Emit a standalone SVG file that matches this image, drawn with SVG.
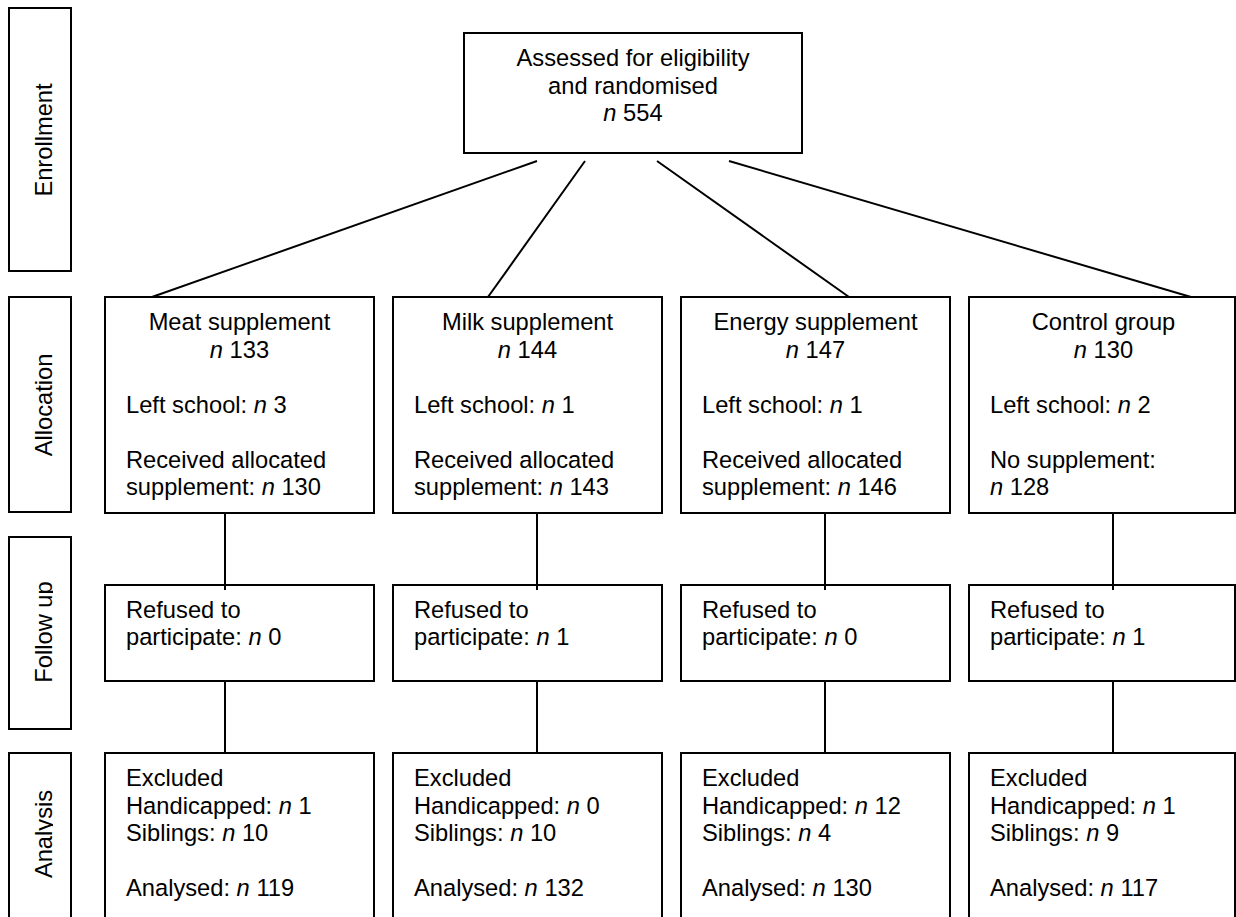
<svg xmlns="http://www.w3.org/2000/svg" width="1236" height="917" viewBox="0 0 1236 917">
<defs>
<style>
.box{fill:#fff;stroke:#000;stroke-width:2}
.bar{fill:#fff;stroke:#000;stroke-width:2}
.ln{stroke:#000;stroke-width:2;fill:none}
text{font-family:"Liberation Sans",Arial,sans-serif;font-size:23.7px;fill:#000}
.c{text-anchor:middle}
.i{font-style:italic}
</style>
<clipPath id="sideclip"><rect x="0" y="0" width="53" height="917"/></clipPath>
</defs>
<rect width="1236" height="917" fill="#fff"/>

<g id="stage-enrollment">
<rect class="bar" x="9" y="8" width="62" height="263"/>
<text class="c" transform="translate(52,140) rotate(-90)">Enrollment</text>
</g>
<g id="stage-allocation">
<rect class="bar" x="9" y="297" width="62" height="215"/>
<text class="c" transform="translate(52,405) rotate(-90)">Allocation</text>
</g>
<g id="stage-followup">
<rect class="bar" x="9" y="537" width="62" height="192"/>
<g clip-path="url(#sideclip)"><text class="c" transform="translate(52,632) rotate(-90)">Follow up</text></g>
</g>
<g id="stage-analysis">
<rect class="bar" x="9" y="753" width="62" height="200"/>
<g clip-path="url(#sideclip)"><text class="c" transform="translate(52,834) rotate(-90)">Analysis</text></g>
</g>

<g id="randomised">
<rect class="box" x="464" y="33" width="338" height="120"/>
<text class="c" x="633" y="66">Assessed for eligibility</text>
<text class="c" x="633" y="93.5">and randomised</text>
<text class="c" x="633" y="121"><tspan class="i">n</tspan> 554</text>
</g>

<g id="alloc-meat">
<rect class="box" x="105" y="297" width="269" height="216"/>
<text class="c" x="239.5" y="330">Meat supplement</text>
<text class="c" x="239.5" y="357.5"><tspan class="i">n</tspan> 133</text>
<text x="126" y="412.5">Left school: <tspan class="i">n</tspan> 3</text>
<text x="126" y="467.5">Received allocated</text>
<text x="126" y="495">supplement: <tspan class="i">n</tspan> 130</text>
</g>
<g id="alloc-milk">
<rect class="box" x="393" y="297" width="269" height="216"/>
<text class="c" x="527.5" y="330">Milk supplement</text>
<text class="c" x="527.5" y="357.5"><tspan class="i">n</tspan> 144</text>
<text x="414" y="412.5">Left school: <tspan class="i">n</tspan> 1</text>
<text x="414" y="467.5">Received allocated</text>
<text x="414" y="495">supplement: <tspan class="i">n</tspan> 143</text>
</g>
<g id="alloc-energy">
<rect class="box" x="681" y="297" width="269" height="216"/>
<text class="c" x="815.5" y="330">Energy supplement</text>
<text class="c" x="815.5" y="357.5"><tspan class="i">n</tspan> 147</text>
<text x="702" y="412.5">Left school: <tspan class="i">n</tspan> 1</text>
<text x="702" y="467.5">Received allocated</text>
<text x="702" y="495">supplement: <tspan class="i">n</tspan> 146</text>
</g>
<g id="alloc-control">
<rect class="box" x="969" y="297" width="266" height="216"/>
<text class="c" x="1103.5" y="330">Control group</text>
<text class="c" x="1103.5" y="357.5"><tspan class="i">n</tspan> 130</text>
<text x="990" y="412.5">Left school: <tspan class="i">n</tspan> 2</text>
<text x="990" y="467.5">No supplement:</text>
<text x="990" y="495"><tspan class="i">n</tspan> 128</text>
</g>

<g id="follow-meat">
<rect class="box" x="105" y="585" width="269" height="96"/>
<text x="126" y="617.5">Refused to</text>
<text x="126" y="645">participate: <tspan class="i">n</tspan> 0</text>
</g>
<g id="follow-milk">
<rect class="box" x="393" y="585" width="269" height="96"/>
<text x="414" y="617.5">Refused to</text>
<text x="414" y="645">participate: <tspan class="i">n</tspan> 1</text>
</g>
<g id="follow-energy">
<rect class="box" x="681" y="585" width="269" height="96"/>
<text x="702" y="617.5">Refused to</text>
<text x="702" y="645">participate: <tspan class="i">n</tspan> 0</text>
</g>
<g id="follow-control">
<rect class="box" x="969" y="585" width="266" height="96"/>
<text x="990" y="617.5">Refused to</text>
<text x="990" y="645">participate: <tspan class="i">n</tspan> 1</text>
</g>

<g id="analysis-meat">
<rect class="box" x="105" y="753" width="269" height="200"/>
<text x="126" y="786">Excluded</text>
<text x="126" y="813.5">Handicapped: <tspan class="i">n</tspan> 1</text>
<text x="126" y="841">Siblings: <tspan class="i">n</tspan> 10</text>
<text x="126" y="896">Analysed: <tspan class="i">n</tspan> 119</text>
</g>
<g id="analysis-milk">
<rect class="box" x="393" y="753" width="269" height="200"/>
<text x="414" y="786">Excluded</text>
<text x="414" y="813.5">Handicapped: <tspan class="i">n</tspan> 0</text>
<text x="414" y="841">Siblings: <tspan class="i">n</tspan> 10</text>
<text x="414" y="896">Analysed: <tspan class="i">n</tspan> 132</text>
</g>
<g id="analysis-energy">
<rect class="box" x="681" y="753" width="269" height="200"/>
<text x="702" y="786">Excluded</text>
<text x="702" y="813.5">Handicapped: <tspan class="i">n</tspan> 12</text>
<text x="702" y="841">Siblings: <tspan class="i">n</tspan> 4</text>
<text x="702" y="896">Analysed: <tspan class="i">n</tspan> 130</text>
</g>
<g id="analysis-control">
<rect class="box" x="969" y="753" width="266" height="200"/>
<text x="990" y="786">Excluded</text>
<text x="990" y="813.5">Handicapped: <tspan class="i">n</tspan> 1</text>
<text x="990" y="841">Siblings: <tspan class="i">n</tspan> 9</text>
<text x="990" y="896">Analysed: <tspan class="i">n</tspan> 117</text>
</g>

<g id="connectors">
<line class="ln" x1="537" y1="161" x2="152" y2="297"/>
<line class="ln" x1="585" y1="161" x2="488" y2="297"/>
<line class="ln" x1="657" y1="161" x2="849" y2="297"/>
<line class="ln" x1="729" y1="161" x2="1191" y2="297"/>
<line class="ln" x1="225" y1="513" x2="225" y2="590"/>
<line class="ln" x1="537" y1="513" x2="537" y2="590"/>
<line class="ln" x1="825" y1="513" x2="825" y2="590"/>
<line class="ln" x1="1113" y1="513" x2="1113" y2="590"/>
<line class="ln" x1="225" y1="681" x2="225" y2="753"/>
<line class="ln" x1="537" y1="681" x2="537" y2="753"/>
<line class="ln" x1="825" y1="681" x2="825" y2="753"/>
<line class="ln" x1="1113" y1="681" x2="1113" y2="753"/>
</g>
</svg>
